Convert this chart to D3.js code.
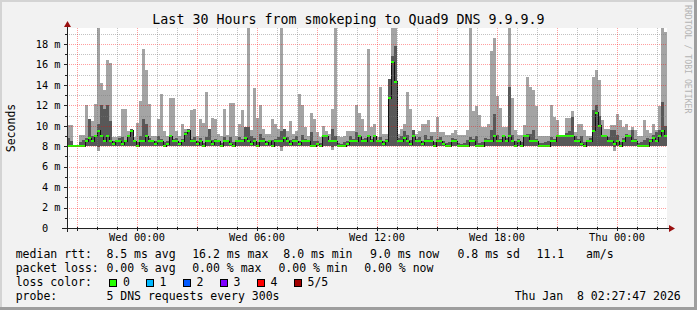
<!DOCTYPE html>
<html lang="en">
<head>
<meta charset="utf-8">
<script src="https://d3js.org/d3.v7.min.js"></script>
<style>
  body { margin: 0; background: #f2f2f2; overflow: hidden; }
  text { font-family: "DejaVu Sans Mono", monospace; white-space: pre; }
</style>
</head>
<body>
<script>
// smokeping detail graph, 5 pings per step, 9 minute columns (seconds shown in ms units "m")
var startTime = new Date(2026, 0, 6, 20, 30);
var endTime = new Date(2026, 0, 8, 2, 30);
var stepMin = 9;

// highest ping (light smoke top)
var hi = [
  10.1, 10.1, 8.1, 8.1, 9.1, 9.1, 12.0, 10.7, 10.5, 12.1,
  19.6, 14.2, 13.5, 16.4, 16.1, 8.9, 8.9, 9.05, 11.6, 11.6,
  9.5, 9.7, 8.9, 10.3, 12.4, 17.5, 15.5, 12.1, 9.05, 9.05,
  10.7, 13.1, 9.5, 9.05, 12.7, 12.7, 9.5, 9.05, 10.2, 9.7,
  9.7, 11.5, 11.6, 9.05, 10.7, 10.3, 13.3, 9.7, 10.8, 10.7,
  9.2, 9.05, 11.6, 9.1, 12.2, 12.2, 9.05, 10.2, 11.5, 9.85,
  19.6, 9.6, 13.7, 10.8, 12.0, 9.7, 9.2, 9.2, 10.7, 10.2,
  9.7, 19.6, 9.5, 9.5, 10.5, 9.2, 9.5, 13.1, 12.0, 9.85,
  9.05, 11.3, 10.7, 9.4, 8.9, 10.0, 9.5, 9.2, 11.6, 19.6,
  9.05, 8.9, 9.05, 9.5, 9.5, 9.5, 12.0, 11.3, 10.7, 9.5,
  17.5, 9.85, 10.2, 8.9, 13.8, 9.2, 9.2, 14.6, 19.6, 19.6,
  9.2, 9.7, 10.2, 13.3, 11.6, 9.5, 9.2, 9.5, 10.2, 10.2,
  10.6, 9.4, 9.4, 10.9, 9.4, 9.4, 9.1, 9.1, 9.3, 9.6,
  9.1, 9.1, 9.1, 9.6, 19.6, 11.4, 11.9, 11.1, 9.9, 9.9,
  10.2, 17.3, 18.6, 12.9, 11.7, 9.9, 9.9, 19.6, 12.7, 9.6,
  9.1, 9.1, 10.1, 14.8, 13.8, 13.5, 11.9, 9.0, 9.0, 9.0,
  9.0, 12.0, 10.9, 10.6, 9.0, 9.0, 10.8, 10.8, 11.4, 9.4,
  10.2, 10.2, 9.6, 9.0, 9.0, 14.8, 15.5, 14.5, 10.6, 9.7,
  9.7, 10.1, 10.1, 11.2, 10.6, 9.9, 10.2, 9.6, 9.9, 9.6,
  9.0, 9.0, 10.6, 9.6, 9.3, 10.2, 9.6, 11.9, 19.6, 19.2
];
// 4th ping (dark smoke top)
var p4 = [
  8.8, 8.5, 8.1, 8.1, 8.4, 8.6, 8.8, 10.7, 9.0, 9.1,
  10.2, 12.0, 11.6, 12.0, 10.5, 8.5, 8.6, 8.8, 8.9, 8.6,
  9.1, 9.7, 8.6, 8.4, 9.0, 10.7, 10.2, 8.8, 8.6, 8.5,
  9.0, 8.7, 8.4, 8.5, 9.1, 8.7, 8.8, 8.4, 8.7, 9.4,
  9.7, 8.7, 8.9, 8.5, 8.8, 8.3, 8.9, 9.7, 8.6, 8.7,
  8.6, 8.3, 8.9, 8.6, 8.9, 8.4, 8.6, 8.9, 8.7, 9.85,
  9.85, 9.0, 8.8, 8.4, 9.2, 8.8, 8.5, 8.6, 8.6, 8.7,
  8.9, 9.5, 9.7, 8.9, 8.6, 8.7, 9.0, 8.5, 9.1, 8.7,
  8.6, 9.4, 8.5, 8.5, 8.3, 9.1, 9.1, 8.6, 9.7, 9.0,
  8.3, 8.2, 8.4, 8.5, 9.0, 8.7, 9.4, 9.1, 8.7, 8.8,
  9.1, 8.7, 9.1, 8.6, 8.9, 8.5, 8.7, 14.6, 16.8, 17.8,
  8.8, 9.0, 9.5, 9.1, 8.6, 9.6, 8.7, 8.9, 8.5, 9.1,
  8.7, 9.0, 8.4, 8.7, 8.9, 8.5, 8.3, 8.4, 8.8, 8.7,
  8.3, 8.2, 8.3, 8.6, 8.9, 8.7, 9.0, 8.3, 8.4, 8.8,
  8.7, 9.6, 11.2, 9.1, 8.7, 9.1, 8.8, 13.8, 9.1, 8.5,
  8.7, 8.4, 9.1, 9.2, 9.2, 9.6, 8.7, 8.3, 8.3, 8.4,
  8.5, 8.9, 8.7, 9.1, 9.1, 9.1, 9.3, 9.5, 10.9, 9.0,
  8.7, 9.0, 8.4, 8.6, 8.8, 11.5, 12.0, 11.0, 9.1, 9.1,
  8.9, 9.6, 9.6, 9.1, 8.4, 8.8, 9.2, 9.1, 9.6, 8.7,
  8.3, 8.4, 8.6, 8.8, 8.7, 9.1, 9.4, 9.6, 12.3, 10.0
];
// median ping
var med = [
  8.0, 8.0, 8.0, 8.0, 8.0, 8.0, 8.5, 8.8, 8.5, 9.0,
  9.5, 9.0, 8.5, 9.0, 8.5, 8.2, 8.5, 8.5, 8.2, 8.5,
  9.0, 9.5, 8.5, 8.0, 8.5, 8.5, 9.0, 8.5, 8.5, 8.2,
  8.5, 8.5, 8.0, 8.2, 9.0, 8.5, 8.5, 8.2, 8.5, 9.2,
  9.5, 8.5, 8.5, 8.2, 8.5, 8.0, 8.5, 8.5, 8.2, 8.5,
  8.5, 8.0, 8.5, 8.5, 8.2, 8.0, 8.5, 8.5, 8.5, 8.8,
  8.5, 8.2, 8.5, 8.0, 8.5, 8.5, 8.2, 8.5, 8.0, 8.5,
  8.5, 8.5, 8.8, 8.5, 8.2, 8.5, 8.5, 8.2, 8.5, 8.5,
  8.5, 8.0, 8.0, 8.2, 8.0, 9.0, 9.0, 8.5, 8.5, 8.5,
  8.0, 8.0, 8.0, 8.2, 8.5, 8.5, 8.5, 9.0, 8.5, 8.5,
  9.0, 8.5, 9.0, 8.5, 8.5, 8.2, 8.5, 12.7, 16.2, 14.3,
  8.5, 8.5, 8.8, 8.5, 8.2, 9.0, 8.5, 8.5, 8.2, 8.5,
  8.5, 8.5, 8.0, 8.5, 8.5, 8.2, 8.0, 8.0, 8.5, 8.5,
  8.0, 8.0, 8.0, 8.0, 8.5, 8.5, 8.0, 8.0, 8.0, 8.5,
  8.5, 8.5, 9.0, 8.5, 8.5, 9.0, 8.5, 9.0, 8.5, 8.0,
  8.5, 8.0, 9.0, 9.0, 8.5, 8.5, 8.5, 8.0, 8.0, 8.0,
  8.0, 8.5, 8.5, 9.0, 9.0, 9.0, 9.0, 9.0, 9.0, 8.5,
  8.5, 8.2, 8.0, 8.5, 8.5, 9.5, 11.3, 10.0, 9.0, 9.0,
  8.5, 8.5, 8.2, 8.5, 8.0, 8.5, 9.0, 9.0, 8.5, 8.5,
  8.0, 8.0, 8.0, 8.0, 8.5, 8.8, 8.5, 9.0, 9.5, 9.0
];
// 2nd ping (dark smoke bottom)
var p2 = [
  8.0, 8.0, 8.0, 8.0, 8.0, 8.0, 8.0, 8.0, 8.0, 8.0,
  7.9, 8.0, 8.0, 8.0, 8.0, 8.0, 8.0, 8.0, 8.0, 8.0,
  8.0, 8.0, 8.0, 8.0, 8.0, 8.0, 8.0, 8.0, 8.0, 8.0,
  8.0, 8.0, 8.0, 8.0, 8.0, 8.0, 8.0, 8.0, 8.0, 8.0,
  8.0, 8.0, 8.0, 8.0, 8.0, 8.0, 8.0, 8.0, 8.0, 8.0,
  8.0, 8.0, 8.0, 8.0, 8.0, 8.0, 8.0, 8.0, 8.0, 8.0,
  8.0, 8.0, 8.0, 8.0, 8.0, 8.0, 8.0, 8.0, 8.0, 8.0,
  8.0, 7.9, 8.0, 8.0, 8.0, 8.0, 8.0, 8.0, 8.0, 8.0,
  8.0, 8.0, 8.0, 8.0, 8.0, 8.0, 8.0, 8.0, 7.9, 8.0,
  8.0, 8.0, 8.0, 8.0, 8.0, 8.0, 8.0, 8.0, 8.0, 8.0,
  8.0, 8.0, 8.0, 8.0, 8.0, 8.0, 8.0, 8.0, 8.0, 8.0,
  8.0, 8.0, 8.0, 8.0, 8.0, 8.0, 8.0, 8.0, 8.0, 8.0,
  8.0, 8.0, 8.0, 8.0, 8.0, 8.0, 8.0, 8.0, 8.0, 8.0,
  8.0, 8.0, 8.0, 8.0, 8.0, 8.0, 8.0, 8.0, 8.0, 8.0,
  8.0, 8.0, 8.0, 8.0, 8.0, 8.0, 8.0, 8.0, 8.0, 8.0,
  8.0, 8.0, 8.0, 8.0, 8.0, 8.0, 8.0, 8.0, 8.0, 8.0,
  8.0, 8.0, 8.0, 8.0, 8.0, 8.0, 8.0, 8.0, 8.0, 8.0,
  8.0, 8.0, 8.0, 8.0, 8.0, 8.0, 8.0, 8.0, 8.0, 8.0,
  8.0, 8.0, 7.9, 8.0, 8.0, 8.0, 8.0, 8.0, 8.0, 8.0,
  8.0, 8.0, 8.0, 8.0, 8.0, 8.0, 8.0, 8.0, 8.0, 8.0
];
// lowest ping (light smoke bottom)
var lo = [
  8.0, 8.0, 8.0, 8.0, 8.0, 8.0, 8.0, 8.0, 8.0, 8.0,
  7.5, 8.0, 8.0, 8.0, 8.0, 8.0, 8.0, 8.0, 8.0, 8.0,
  8.0, 8.0, 8.0, 8.0, 8.0, 8.0, 8.0, 8.0, 8.0, 8.0,
  8.0, 8.0, 8.0, 8.0, 8.0, 8.0, 8.0, 8.0, 8.0, 8.0,
  8.0, 8.0, 8.0, 8.0, 8.0, 8.0, 8.0, 8.0, 8.0, 8.0,
  8.0, 8.0, 8.0, 8.0, 8.0, 8.0, 8.0, 8.0, 8.0, 8.0,
  8.0, 8.0, 8.0, 8.0, 8.0, 8.0, 8.0, 8.0, 8.0, 8.0,
  8.0, 7.5, 8.0, 8.0, 8.0, 8.0, 8.0, 8.0, 8.0, 8.0,
  8.0, 8.0, 8.0, 8.0, 8.0, 8.0, 8.0, 8.0, 7.6, 8.0,
  8.0, 8.0, 8.0, 8.0, 8.0, 8.0, 8.0, 8.0, 8.0, 8.0,
  8.0, 8.0, 8.0, 8.0, 8.0, 8.0, 8.0, 8.0, 8.0, 8.0,
  8.0, 8.0, 8.0, 8.0, 8.0, 8.0, 8.0, 8.0, 8.0, 8.0,
  8.0, 8.0, 8.0, 8.0, 8.0, 8.0, 8.0, 8.0, 8.0, 8.0,
  8.0, 8.0, 8.0, 8.0, 8.0, 8.0, 8.0, 8.0, 8.0, 8.0,
  8.0, 8.0, 8.0, 8.0, 8.0, 8.0, 8.0, 8.0, 8.0, 8.0,
  8.0, 8.0, 8.0, 8.0, 8.0, 8.0, 8.0, 8.0, 8.0, 8.0,
  8.0, 8.0, 8.0, 8.0, 8.0, 8.0, 8.0, 8.0, 8.0, 8.0,
  8.0, 8.0, 8.0, 8.0, 8.0, 8.0, 8.0, 8.0, 8.0, 8.0,
  8.0, 8.0, 7.5, 8.0, 8.0, 8.0, 8.0, 8.0, 8.0, 8.0,
  8.0, 8.0, 8.0, 8.0, 8.0, 8.0, 8.0, 8.0, 8.0, 8.0
];

var yMax = 19.57;
var yLabelTicks = [0, 2, 4, 6, 8, 10, 12, 14, 16, 18];

var title = "Last 30 Hours from smokeping to Quad9 DNS 9.9.9.9";
var rttStats = ["8.5 ms avg", "16.2 ms max", "8.0 ms min", "9.0 ms now", "0.8 ms sd", "11.1", "am/s"];
var lossStats = ["0.00 % avg", "0.00 % max", "0.00 % min", "0.00 % now"];
var lossLabels = ["0", "1", "2", "3", "4", "5/5"];
var lossColors = ["#26ff00", "#00b8ff", "#0059ff", "#7e00ff", "#ff0000", "#a10000"];
var probeText = "5 DNS requests every 300s";
var stamp = "Thu Jan  8 02:27:47 2026";

var W = 697, H = 310;
var pl = 67, pr = 667, pt = 28, pb = 228;

var svg = d3.select("body").append("svg").attr("width", W).attr("height", H);

// background + 3d border
svg.append("rect").attr("width", W).attr("height", H).attr("fill", "#f2f2f2");
svg.append("rect").attr("x", 0).attr("y", 0).attr("width", W).attr("height", 2).attr("fill", "#d4d4d4");
svg.append("rect").attr("x", 0).attr("y", 0).attr("width", 2).attr("height", H).attr("fill", "#d4d4d4");
svg.append("rect").attr("x", W - 3).attr("y", 0).attr("width", 3).attr("height", H).attr("fill", "#9e9e9e");
svg.append("rect").attr("x", 0).attr("y", H - 3).attr("width", W).attr("height", 3).attr("fill", "#9e9e9e");

var x = d3.scaleTime().domain([startTime, endTime]).range([pl, pr]);
var y = d3.scaleLinear().domain([0, yMax]).range([pb, pt]);

function tAt(i) { return d3.timeMinute.offset(startTime, i * stepMin); }

svg.append("rect").attr("x", pl).attr("y", pt).attr("width", pr - pl).attr("height", pb - pt).attr("fill", "#fff");

svg.append("clipPath").attr("id", "plotclip").append("rect")
  .attr("x", pl).attr("y", pt).attr("width", pr - pl).attr("height", pb - pt);

var g = svg.append("g").attr("clip-path", "url(#plotclip)").attr("shape-rendering", "crispEdges");

// light smoke
g.selectAll("rect.light").data(hi).enter().append("rect").attr("class", "light")
  .attr("x", function(d, i) { return x(tAt(i)); })
  .attr("width", function(d, i) { return x(tAt(i + 1)) - x(tAt(i)); })
  .attr("y", function(d) { return y(d); })
  .attr("height", function(d, i) { return y(lo[i]) - y(d); })
  .attr("fill", "#a4a4a4");

// dark smoke
g.selectAll("rect.dark").data(p4).enter().append("rect").attr("class", "dark")
  .attr("x", function(d, i) { return x(tAt(i)); })
  .attr("width", function(d, i) { return x(tAt(i + 1)) - x(tAt(i)); })
  .attr("y", function(d) { return y(d); })
  .attr("height", function(d, i) { return Math.max(0, y(p2[i]) - y(d)); })
  .attr("fill", "#585858");

// median: thin dark step line + loss coloured bar
var medPts = med.map(function(d, i) { return [tAt(i), d]; });
medPts.push([tAt(med.length), med[med.length - 1]]);
g.append("path").datum(medPts)
  .attr("d", d3.line().x(function(d) { return x(d[0]); }).y(function(d) { return y(d[1]); }).curve(d3.curveStepAfter))
  .attr("fill", "none").attr("stroke", "#111").attr("stroke-width", 1);

g.selectAll("rect.med").data(med).enter().append("rect").attr("class", "med")
  .attr("x", function(d, i) { return x(tAt(i)); })
  .attr("width", function(d, i) { return x(tAt(i + 1)) - x(tAt(i)); })
  .attr("y", function(d) { return Math.round(y(d)) - 1; })
  .attr("height", 2)
  .attr("fill", lossColors[0]);

// grid (drawn over the data like rrdtool)
var grid = svg.append("g").attr("shape-rendering", "crispEdges");
var minorY = d3.range(1, Math.floor(yMax) + 1).filter(function(v) { return v % 2 !== 0; });
grid.selectAll("line.my").data(minorY).enter().append("line")
  .attr("x1", pl).attr("x2", pr).attr("y1", function(d) { return y(d) + 0.5; }).attr("y2", function(d) { return y(d) + 0.5; })
  .attr("stroke", "rgba(120,120,120,0.45)").attr("stroke-dasharray", "1,1");
grid.selectAll("line.My").data(yLabelTicks.slice(1)).enter().append("line")
  .attr("x1", pl).attr("x2", pr).attr("y1", function(d) { return y(d) + 0.5; }).attr("y2", function(d) { return y(d) + 0.5; })
  .attr("stroke", "rgba(255,0,0,0.38)").attr("stroke-dasharray", "1,1");

var hours = d3.timeHour.every(1).range(startTime, endTime);
var majors = d3.timeHour.every(3).range(startTime, endTime);
var labels = d3.timeHour.every(6).range(startTime, endTime);
grid.selectAll("line.mx").data(hours.filter(function(d) { return d.getHours() % 3 !== 0; })).enter().append("line")
  .attr("y1", pt).attr("y2", pb).attr("x1", function(d) { return x(d) + 0.5; }).attr("x2", function(d) { return x(d) + 0.5; })
  .attr("stroke", "rgba(120,120,120,0.45)").attr("stroke-dasharray", "1,1");
grid.selectAll("line.Mx").data(majors).enter().append("line")
  .attr("y1", pt).attr("y2", pb).attr("x1", function(d) { return x(d) + 0.5; }).attr("x2", function(d) { return x(d) + 0.5; })
  .attr("stroke", "rgba(255,0,0,0.38)").attr("stroke-dasharray", "1,1");

// axes
var ax = svg.append("g").attr("shape-rendering", "crispEdges");
ax.append("line").attr("x1", pl - 5).attr("x2", pr + 3).attr("y1", pb + 0.5).attr("y2", pb + 0.5).attr("stroke", "#222");
ax.append("line").attr("x1", pl + 0.5).attr("x2", pl + 0.5).attr("y1", pb + 4).attr("y2", pt - 4).attr("stroke", "#222");
ax.selectAll("line.tx").data(hours).enter().append("line")
  .attr("x1", function(d) { return x(d) + 0.5; }).attr("x2", function(d) { return x(d) + 0.5; })
  .attr("y1", pb - 1).attr("y2", function(d) { return d.getHours() % 3 === 0 ? pb + 3 : pb + 2; })
  .attr("stroke", "#222");
ax.selectAll("line.ty").data(d3.range(1, Math.floor(yMax) + 1)).enter().append("line")
  .attr("y1", function(d) { return y(d) + 0.5; }).attr("y2", function(d) { return y(d) + 0.5; })
  .attr("x1", function(d) { return d % 2 === 0 ? pl - 3 : pl - 2; }).attr("x2", pl + 1)
  .attr("stroke", "#222");
svg.append("path").attr("d", "M" + (pl - 3) + "," + (pt - 1) + "L" + (pl + 4) + "," + (pt - 1) + "L" + (pl + 0.5) + "," + (pt - 7) + "Z").attr("fill", "#9a1010");
svg.append("path").attr("d", "M" + (pr + 2) + "," + (pb - 3) + "L" + (pr + 2) + "," + (pb + 4) + "L" + (pr + 8) + "," + (pb + 0.5) + "Z").attr("fill", "#9a1010");

// axis labels
svg.selectAll("text.yl").data(yLabelTicks).enter().append("text")
  .attr("x", pl - 6.5).attr("y", function(d) { return y(d) + 3.8; })
  .attr("text-anchor", "end").attr("font-size", "10.3px").attr("fill", "#000")
  .text(function(d) { return d === 0 ? "0  " : d + " m"; });
svg.selectAll("text.xl").data(labels).enter().append("text")
  .attr("x", function(d) { return x(d); }).attr("y", 241)
  .attr("text-anchor", "middle").attr("font-size", "10.3px").attr("fill", "#000")
  .text(d3.timeFormat("%a %H:%M"));

svg.append("text").attr("transform", "translate(15,128) rotate(-90)").attr("text-anchor", "middle")
  .attr("font-size", "11.5px").attr("fill", "#000").text("Seconds");

svg.append("text").attr("x", 348.5).attr("y", 23.5).attr("text-anchor", "middle")
  .attr("font-size", "13.3px").attr("fill", "#000").text(title);

svg.append("text").attr("transform", "translate(685,5) rotate(90)")
  .attr("font-size", "8.2px").attr("fill", "#b4b4b4").text("RRDTOOL / TOBI OETIKER");

// legend
var lg = svg.append("g").attr("font-size", "11.5px").attr("fill", "#000");
var lineY = [258, 272, 286, 300];
lg.append("text").attr("x", 15.7).attr("y", lineY[0]).text("median rtt:");
var rttX = [106.4, 192.2, 283.3, 370, 457.5, 536.6, 586];
lg.selectAll("text.rtt").data(rttStats).enter().append("text")
  .attr("x", function(d, i) { return rttX[i]; }).attr("y", lineY[0]).text(function(d) { return d; });

lg.append("text").attr("x", 15.7).attr("y", lineY[1]).text("packet loss:");
var lossX = [106.4, 192.2, 278.4, 364.2];
lg.selectAll("text.loss").data(lossStats).enter().append("text")
  .attr("x", function(d, i) { return lossX[i]; }).attr("y", lineY[1]).text(function(d) { return d; });

lg.append("text").attr("x", 15.7).attr("y", lineY[2]).text("loss color:");
var boxX = [109, 145.5, 182.5, 219.5, 256.5, 293.5];
lg.selectAll("rect.box").data(lossColors).enter().append("rect")
  .attr("x", function(d, i) { return boxX[i] + 0.5; }).attr("y", 279.5)
  .attr("width", 7).attr("height", 7)
  .attr("fill", function(d) { return d; }).attr("stroke", "#000").attr("stroke-width", 1)
  .attr("shape-rendering", "crispEdges");
lg.selectAll("text.ll").data(lossLabels).enter().append("text")
  .attr("x", function(d, i) { return boxX[i] + 14; }).attr("y", lineY[2]).text(function(d) { return d; });

lg.append("text").attr("x", 15.7).attr("y", lineY[3]).text("probe:");
lg.append("text").attr("x", 106.4).attr("y", lineY[3]).text(probeText);
lg.append("text").attr("x", 680.8).attr("y", lineY[3]).attr("text-anchor", "end").text(stamp);
</script>
</body>
</html>
